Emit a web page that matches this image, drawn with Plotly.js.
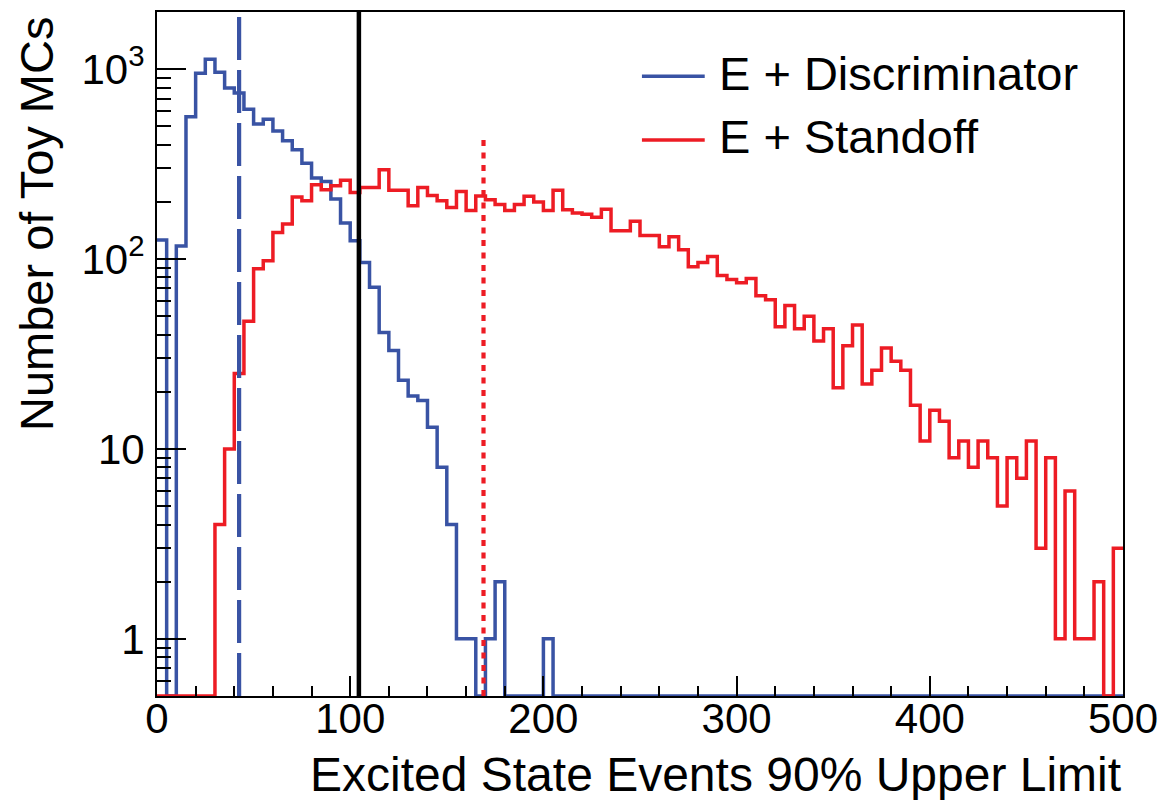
<!DOCTYPE html>
<html>
<head>
<meta charset="utf-8">
<script src="https://cdn.plot.ly/plotly-3.0.1.min.js"></script>
<style>html,body{margin:0;padding:0;background:#fff;}#chart{width:1164px;height:800px;}</style>
</head>
<body>
<div id="chart"></div>
<script>
// ---- data ----
const binWidth = 5;
const xMin = 0;
const xMax = 500;
const seriesNames = ["E + Discriminator", "E + Standoff"];
const seriesColors = ["#3953a4", "#ed1c24"];

const discriminatorCounts = [
  126, 0, 117, 561, 953, 1129, 964, 795, 748, 615,
  515, 545, 473, 420, 376, 320, 267, 256, 207, 155,
  125, 96, 71, 41, 33, 23, 19, 18, 13, 8,
  4, 1, 1, 0, 1, 2, 0, 0, 0, 0,
  1, 0, 0, 0, 0, 0, 0, 0, 0, 0,
  0, 0, 0, 0, 0, 0, 0, 0, 0, 0,
  0, 0, 0, 0, 0, 0, 0, 0, 0, 0,
  0, 0, 0, 0, 0, 0, 0, 0, 0, 0,
  0, 0, 0, 0, 0, 0, 0, 0, 0, 0,
  0, 0, 0, 0, 0, 0, 0, 0, 0, 0
];

const standoffCounts = [
  0, 0, 0, 0, 0, 0, 4, 10, 25, 47,
  89, 98, 138, 153, 212, 203, 246, 232, 243, 260,
  224, 238, 238, 295, 230, 230, 191, 238, 216, 203,
  187, 227, 180, 215, 205, 194, 180, 194, 214, 200,
  180, 230, 182, 175, 172, 166, 183, 141, 141, 158,
  133, 133, 116, 131, 112, 91, 96, 103, 82, 78,
  75, 79, 64, 61, 44, 57, 43, 50, 37, 43,
  21, 35, 45, 22, 26, 34, 29, 26, 17, 11,
  16, 14, 9, 11, 8, 11, 9, 5, 9, 7,
  11, 3, 9, 1, 6, 1, 1, 2, 0, 3
];

// 90% upper-limit markers
const limitNames = ["Discriminator median", "Combined", "Standoff median"];
const limitValues = [42.5, 104.5, 169];
const limitTops = [2000, 2000, 430];
const limitColors = ["#3953a4", "#000000", "#ed1c24"];
const limitDashes = ["43px,10px", "solid", "6px,6.5px"];

const yTickVals = [1, 10, 100, 1000];
const yTickText = ["1", "10", "10<sup>2</sup>", "10<sup>3</sup>"];

const yFloor = 0.5;
const yCeil = 2000;

// ---- build ----
function stepTrace(counts, name, color) {
  const xs = [], ys = [];
  for (let i = 0; i < counts.length; i++) {
    xs.push(xMin + i * binWidth);
    ys.push(counts[i] > 0 ? counts[i] : yFloor);
  }
  xs.push(xMin + counts.length * binWidth);
  ys.push(counts[counts.length - 1] > 0 ? counts[counts.length - 1] : yFloor);
  return {
    type: "scatter", mode: "lines", x: xs, y: ys, name: name,
    line: { shape: "hv", color: color, width: 3.5 },
    showlegend: false, hoverinfo: "skip"
  };
}

const traces = [
  stepTrace(discriminatorCounts, seriesNames[0], seriesColors[0]),
  stepTrace(standoffCounts, seriesNames[1], seriesColors[1])
];
for (let i = 0; i < limitValues.length; i++) {
  traces.push({
    type: "scatter", mode: "lines",
    x: [limitValues[i], limitValues[i]], y: [yFloor, limitTops[i]],
    name: limitNames[i], showlegend: false, hoverinfo: "skip",
    line: { color: limitColors[i], width: i === 1 ? 4.5 : 4.2, dash: limitDashes[i] }
  });
}

const yMinor = [];
[0.1, 1, 10, 100, 1000].forEach(d => {
  for (let m = 2; m <= 9; m++) {
    const v = m * d;
    if (v > yFloor * 1.001 && v < yCeil * 0.999) yMinor.push(v);
  }
});

const font = "Liberation Sans, Arial, Helvetica, sans-serif";

// manual legend (line sample + label)
const legendX0 = 0.502, legendX1 = 0.567, legendTextX = 0.580;
const legendRowsY = [0.906, 0.813];
const shapes = [], annotations = [];
seriesNames.forEach((n, i) => {
  shapes.push({ type: "line", xref: "paper", yref: "paper",
    x0: legendX0, x1: legendX1, y0: legendRowsY[i], y1: legendRowsY[i],
    line: { color: seriesColors[i], width: 3.5 } });
  annotations.push({ xref: "paper", yref: "paper", x: legendTextX, y: legendRowsY[i],
    xanchor: "left", yanchor: "middle", yshift: 3, showarrow: false, text: n,
    font: { family: font, size: 47, color: "#000" } });
});
annotations.push({ xref: "paper", yref: "paper", x: 1, y: 0, xanchor: "right", yanchor: "middle",
  yshift: -78, showarrow: false, text: "Excited State Events 90% Upper Limit",
  font: { family: font, size: 48, color: "#000" } });
annotations.push({ xref: "paper", yref: "paper", x: 0, y: 1, xanchor: "center", yanchor: "top",
  xshift: -121, yshift: -3, textangle: -90, showarrow: false, text: "Number of Toy MCs",
  font: { family: font, size: 47, color: "#000" } });

const layout = {
  width: 1164, height: 800,
  margin: { l: 157, r: 41, t: 12, b: 104 },
  paper_bgcolor: "#fff", plot_bgcolor: "#fff",
  font: { family: font, color: "#000" },
  showlegend: false,
  xaxis: {
    range: [xMin, xMax], tick0: 0, dtick: 100,
    ticks: "inside", ticklen: 20, tickwidth: 2, tickcolor: "#000",
    showline: true, linewidth: 2, linecolor: "#000", mirror: true,
    showgrid: false, zeroline: false, ticklabelstandoff: -15,
    tickfont: { family: font, size: 42, color: "#000" },
    minor: { dtick: 20, ticks: "inside", ticklen: 10, tickwidth: 2, tickcolor: "#000", showgrid: false }
  },
  yaxis: {
    type: "log", range: [Math.log10(yFloor), Math.log10(yCeil)],
    tickmode: "array", tickvals: yTickVals, ticktext: yTickText,
    ticks: "inside", ticklen: 29, tickwidth: 2, tickcolor: "#000",
    showline: true, linewidth: 2, linecolor: "#000", mirror: true,
    showgrid: false, zeroline: false, ticklabelstandoff: 2,
    tickfont: { family: font, size: 42, color: "#000" },
    minor: { tickmode: "array", tickvals: yMinor, ticks: "inside", ticklen: 14, tickwidth: 2, tickcolor: "#000", showgrid: false }
  },
  shapes: shapes,
  annotations: annotations
};

Plotly.newPlot("chart", traces, layout, { staticPlot: true, displayModeBar: false });
</script>
</body>
</html>
